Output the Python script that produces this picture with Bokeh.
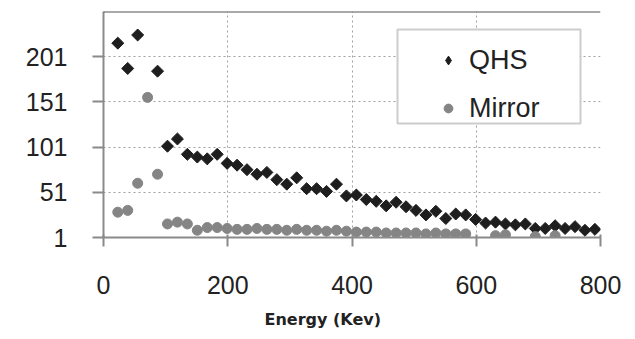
from bokeh.plotting import figure
from bokeh.models import (Range1d, FixedTicker, Legend, LegendItem, Span, Title,
                          ColumnDataSource, BoxAnnotation)
from bokeh.embed import file_html
from bokeh.resources import INLINE

# ---- data ----
energy = [23, 39, 55, 71, 87, 103, 119, 135, 151, 167, 183, 199, 215, 231, 247, 263,
          279, 295, 311, 327, 343, 359, 375, 391, 407, 423, 439, 455, 471, 487, 503,
          519, 535, 551, 567, 583, 599, 615, 631, 647, 663, 679, 695, 711, 727, 743,
          759, 775, 791]

qhs_energy = [e for e in energy if e != 71]
qhs_counts = [216, 188, 225, 185, 102, 110, 93, 90, 88, 93, 83, 81, 76, 71, 73, 65,
              60, 67, 55, 55, 52, 60, 47, 48, 43, 41, 36, 40, 35, 31, 26, 30, 22, 27,
              26, 21, 17, 18, 16, 15, 16, 11, 11, 14, 11, 13, 9, 10]

mirror_energy = energy[:36] + [631, 647, 695, 727]
mirror_counts = [29, 31, 61, 156, 71, 16, 18, 16, 9, 12, 12, 11, 10, 10, 11, 10, 10,
                 9, 10, 9, 9, 8, 9, 8, 7, 7, 7, 6, 6, 6, 6, 5, 6, 5, 5, 5,
                 3, 4, 2, 3]

x_ticks = [0, 200, 400, 600, 800]
y_ticks = [1, 51, 101, 151, 201]
x_title = "Energy (Kev)"
series_names = ["QHS", "Mirror"]

FONT = "Liberation Sans"
QHS_COLOR = "#1e1e1e"
MIRROR_COLOR = "#858585"

p = figure(width=635, height=339, output_backend="svg", toolbar_location=None,
           x_range=Range1d(0, 800), y_range=Range1d(1, 251),
           min_border_left=103, min_border_right=35, min_border_top=11,
           min_border_bottom=101)
p.outline_line_color = None
p.background_fill_color = "white"
p.border_fill_color = "white"

# axes
for ax in (p.xaxis[0], p.yaxis[0]):
    ax.axis_line_color = "#8a8a8a"
    ax.axis_line_width = 2
    ax.major_tick_line_color = "#8a8a8a"
    ax.major_tick_line_width = 2
    ax.minor_tick_line_color = None
    ax.major_label_text_font = FONT
    ax.major_label_text_font_size = "25px"
    ax.major_label_text_color = "#222222"

p.xaxis.ticker = FixedTicker(ticks=x_ticks)
p.yaxis.ticker = FixedTicker(ticks=y_ticks)
p.xaxis.major_tick_in = 3
p.xaxis.major_tick_out = 9
p.yaxis.major_tick_in = 0
p.yaxis.major_tick_out = 11
p.yaxis.major_label_standoff = 25
p.xaxis.major_label_standoff = 29

# grid
p.xgrid.ticker = FixedTicker(ticks=x_ticks)
p.ygrid.ticker = FixedTicker(ticks=y_ticks)
for g in (p.xgrid[0], p.ygrid[0]):
    g.grid_line_color = "#a0a0a0"
    g.grid_line_dash = "2 3"
    g.grid_line_width = 1

# top border
p.add_layout(Span(location=251, dimension="width", line_color="#555555", line_width=2))

qsrc = ColumnDataSource(dict(x=qhs_energy, y=qhs_counts))
msrc = ColumnDataSource(dict(x=mirror_energy, y=mirror_counts))

r_q = p.scatter("x", "y", source=qsrc, marker="square", size=8.5, angle=0.785398,
                fill_color=QHS_COLOR, line_color=QHS_COLOR)
r_m = p.scatter("x", "y", source=msrc, marker="circle", size=10,
                fill_color=MIRROR_COLOR, line_color=MIRROR_COLOR)

# legend key glyph for QHS (diamond); its single placeholder point is NaN, so
# nothing is drawn in the plot area
r_q_key = p.scatter(x=[float("nan")], y=[float("nan")], marker="diamond",
                    fill_color=QHS_COLOR, line_color=QHS_COLOR)

# legend frame
p.add_layout(BoxAnnotation(left=294, right=477, bottom=114, top=208,
                           left_units="screen", right_units="screen",
                           bottom_units="screen", top_units="screen",
                           fill_color="white", fill_alpha=1,
                           line_color="#555555", line_width=2))

legend = Legend(items=[LegendItem(label=series_names[0], renderers=[r_q_key]),
                       LegendItem(label=series_names[1], renderers=[r_m])],
                location=(334, 113), orientation="vertical")
legend.border_line_color = None
legend.background_fill_alpha = 0
legend.label_text_font = FONT
legend.label_text_font_size = "27px"
legend.label_text_color = "#222222"
legend.padding = 8
legend.margin = 0
legend.spacing = 16
legend.glyph_width = 22
legend.glyph_height = 22
legend.label_height = 32
legend.label_standoff = 10
p.add_layout(legend, "center")

# x-axis title (placed left of centre, as in the reference)
p.add_layout(Title(text=x_title, align="left", offset=161, text_font="DejaVu Sans",
                   text_font_size="16px", text_font_style="bold",
                   text_color="#222222", standoff=22), "below")

open("out.html", "w").write(file_html(p, INLINE))
